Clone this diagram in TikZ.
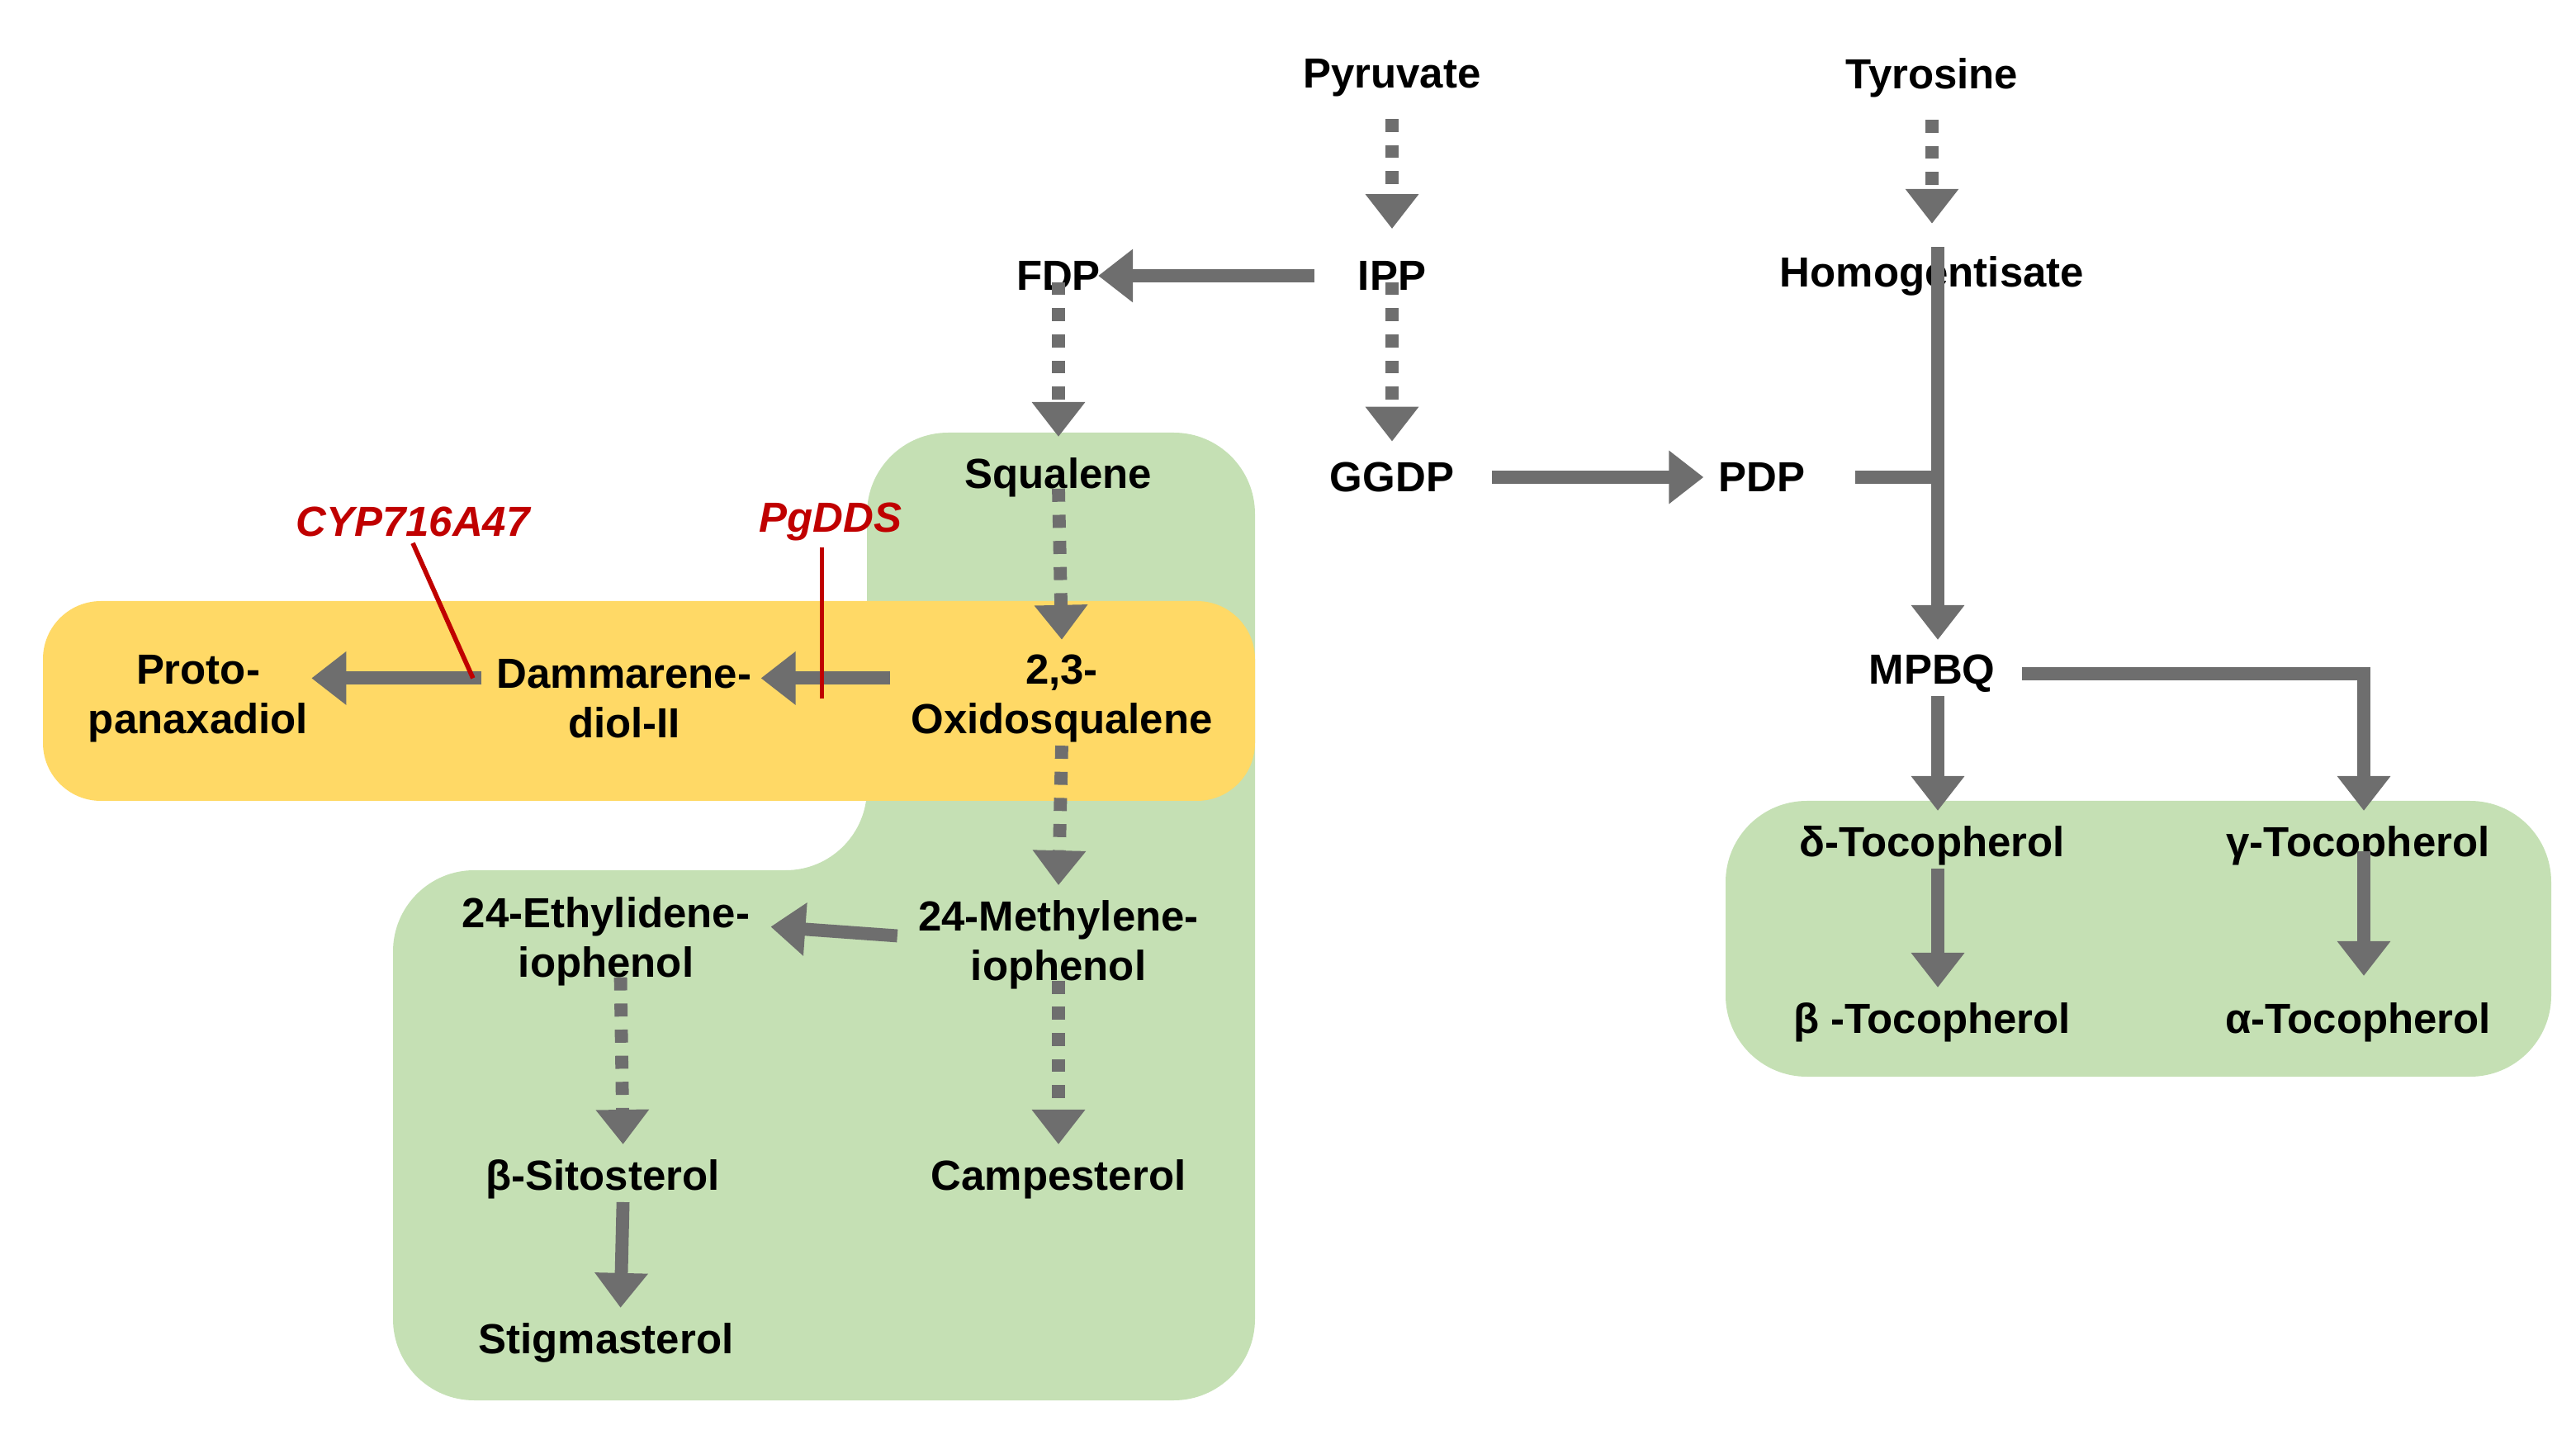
\documentclass[tikz,border=0pt]{standalone}
\usepackage{fontspec}
\setmainfont{Liberation Sans}
\usetikzlibrary{arrows.meta}
\definecolor{ag}{HTML}{6E6E6E}
\definecolor{gr}{HTML}{C5E0B4}
\definecolor{ye}{HTML}{FFD966}
\definecolor{rd}{HTML}{C00000}
\begin{document}
\begin{tikzpicture}[x=0.02cm,y=-0.02cm,
 t/.style={font=\fontsize{14.5}{17}\selectfont\bfseries,align=center,inner sep=3pt},
 e/.style={font=\fontsize{14.5}{17}\selectfont\bfseries\itshape,text=rd,inner sep=2pt},
 ar/.style={draw=ag,line width=4.5pt,-{Triangle[width=0.62cm,length=0.42cm]}},
 ln/.style={draw=ag,line width=4.5pt},
 da/.style={ar,dash pattern=on 4.5pt off 4.5pt},
 inh/.style={draw=rd,line width=1.6pt}]
\useasboundingbox (0,0) rectangle (1560,868.6);
\fill[gr,rounded corners=28] (525,262)--(760,262)--(760,848)--(238,848)--(238,527)--(525,527)--cycle;
\fill[ye,rounded corners=20] (26,364) rectangle (760,485);
\fill[gr,rounded corners=28] (1045,485) rectangle (1545,652);
\node[t] (pyr) at (843,47) {Pyruvate};
\node[t] (tyr) at (1170,47) {Tyrosine};
\node[t] (fdp) at (641,167) {FDP};
\node[t] (ipp) at (843,167) {IPP};
\node[t] (hom) at (1170,167) {Homogentisate};
\node[t] (squ) at (641,289) {Squalene};
\node[t] (ggdp) at (843,289) {GGDP};
\node[t] (pdp) at (1067,289) {PDP};
\node[e] (cyp) at (250,316) {CYP716A47};
\node[e] (pg) at (503,316) {PgDDS};
\node[t] (pro) at (120,423) {Proto-\\panaxadiol};
\node[t] (dam) at (378,423) {Dammarene-\\diol-II};
\node[t] (oxi) at (643,423) {2,3-\\Oxidosqualene};
\node[t] (mpbq) at (1170,408) {MPBQ};
\node[t] (dt) at (1170,512) {δ-Tocopherol};
\node[t] (gt) at (1428,512) {γ-Tocopherol};
\node[t] (eth) at (367,570) {24-Ethylidene-\\iophenol};
\node[t] (met) at (641,572) {24-Methylene-\\iophenol};
\node[t] (bt) at (1170,619) {β -Tocopherol};
\node[t] (at) at (1428,619) {α-Tocopherol};
\node[t] (sit) at (365,714) {β-Sitosterol};
\node[t] (cam) at (641,714) {Campesterol};
\node[t] (sti) at (367,813) {Stigmasterol};
\coordinate (j) at (1172,289);
\draw[da] (pyr.south)++(0,8) -- ([yshift=8]ipp.north);
\draw[da] (tyr.south)++(0,8) -- ([yshift=8]hom.north);
\draw[ar] ([xshift=-12]ipp.west) -- ([xshift=-4]fdp.east);
\draw[da] ([yshift=6]fdp.south) -- ([yshift=4]squ.north);
\draw[da] ([yshift=6]ipp.south) -- ([yshift=4]ggdp.north);
\draw[ar] ([xshift=10]ggdp.east) -- ([xshift=-2]pdp.west);
\draw[ar] ([xshift=2,yshift=20]hom.south) -- ([xshift=2,yshift=2]mpbq.north);
\draw[ln] ([xshift=14]pdp.east) -- ([xshift=2.25pt]j);
\draw[da] ([yshift=6]squ.south) -- ([yshift=2]oxi.north);
\draw[ar] ([xshift=-4,yshift=7]oxi.west) -- ([yshift=7]dam.east);
\draw[ar] ([xshift=-2,yshift=7]dam.west) -- ([xshift=-2,yshift=7]pro.east);
\draw[inh] (cyp.south) -- ([xshift=-5,yshift=7]dam.west|-dam.center) coordinate (c1);
\draw[inh] ([xshift=-3]pg.south) -- ([xshift=-3]pg.south|-oxi.center) ;
\draw[da] ([yshift=2]oxi.south) -- ([yshift=2]met.north);
\draw[ar] ([xshift=-4,yshift=3]met.west) -- ([xshift=4,yshift=5]eth.east);
\draw[da] ([xshift=5,yshift=6]eth.south) -- ([xshift=7,yshift=2]sit.north);
\draw[da] ([yshift=6]met.south) -- ([yshift=2]cam.north);
\draw[ar] ([xshift=7,yshift=2]sit.south) -- ([xshift=5,yshift=2]sti.north);
\draw[ar] ([xshift=2,yshift=2]mpbq.south) -- ([xshift=2,yshift=2]dt.north);
\draw[ar] ([xshift=6]mpbq.east) -| ([xshift=2,yshift=2]gt.north);
\draw[ar] ([xshift=2,yshift=2]dt.south) -- ([xshift=2,yshift=2]bt.north);
\draw[ar] ([xshift=2,yshift=8]gt.south) -- ([xshift=2,yshift=6]at.north);
\end{tikzpicture}
\end{document}
